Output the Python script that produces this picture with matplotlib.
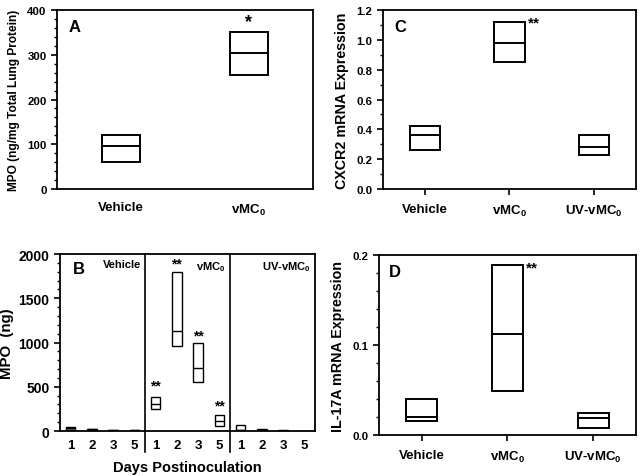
import matplotlib
matplotlib.use("Agg")
import matplotlib.pyplot as plt
from matplotlib.ticker import MultipleLocator
import numpy as np

plt.rcParams['font.family'] = ['Liberation Sans', 'DejaVu Sans']
plt.rcParams['font.weight'] = 'bold'
plt.rcParams['mathtext.fontset'] = 'custom'
plt.rcParams['mathtext.rm'] = 'Liberation Sans:bold'
plt.rcParams['mathtext.bf'] = 'Liberation Sans:bold'
plt.rcParams['mathtext.it'] = 'Liberation Sans:bold'

VMC = r'vMC$_\mathregular{0}$'
UVVMC = r'UV-vMC$_\mathregular{0}$'

# Panel A
a_groups = ['Vehicle', VMC]
a_low = [60, 256]
a_med = [97, 305]
a_high = [121, 350]

# Panel B
b_days = ['1', '2', '3', '5']
b_groups = ['Vehicle', VMC, UVVMC]
b_low = [10, 8, 5, 4, 252, 959, 553, 56, 8, 5, 3, 2]
b_med = [30, 18, 8, 6, 308, 1128, 711, 109, 15, 10, 5, 3]
b_high = [50, 28, 14, 11, 383, 1793, 992, 177, 65, 20, 10, 5]
b_face = ['#888888'] * 4 + ['white'] * 8
b_star = [None, None, None, None, 515, 1890, 1080, 290, None, None, None, None]

# Panel C
c_groups = ['Vehicle', VMC, UVVMC]
c_low = [0.26, 0.855, 0.225]
c_med = [0.36, 0.98, 0.285]
c_high = [0.425, 1.12, 0.365]

# Panel D
d_groups = ['Vehicle', VMC, UVVMC]
d_low = [0.016, 0.049, 0.008]
d_med = [0.020, 0.112, 0.019]
d_high = [0.040, 0.189, 0.024]

fig = plt.figure(figsize=(6.43, 4.77), dpi=100)

def style(ax, ys=8.2, xs=9.5):
    for s in ['top', 'right', 'left', 'bottom']:
        ax.spines[s].set_linewidth(1.3)
    ax.tick_params(direction='out', width=1.2, length=4)
    ax.tick_params(axis='y', labelsize=ys)
    ax.tick_params(axis='x', labelsize=xs)
    ax.tick_params(which='minor', direction='out', width=1.0, length=2.5)
    ax.tick_params(axis='x', which='minor', bottom=False)
    for lab in ax.get_yticklabels() + ax.get_xticklabels():
        lab.set_fontweight('bold')

def boxes(ax, x, low, med, high, width, lw, face='white'):
    low = np.array(low); med = np.array(med); high = np.array(high)
    ax.bar(x, high - low, width=width, bottom=low, color=face, edgecolor='black', linewidth=lw, zorder=3)
    ax.hlines(med, np.array(x) - width / 2, np.array(x) + width / 2, colors='black', linewidth=lw, zorder=4)

# ---- A
axA = fig.add_axes([0.0886, 0.6017, 0.398, 0.375])
xa = np.arange(len(a_groups))
boxes(axA, xa, a_low, a_med, a_high, 0.3, 1.4)
axA.set_xlim(-0.5, 1.5)
axA.set_ylim(0, 400)
axA.yaxis.set_major_locator(MultipleLocator(100))
axA.yaxis.set_minor_locator(MultipleLocator(20))
axA.set_xticks(xa)
axA.set_xticklabels(a_groups)
style(axA)
axA.tick_params(axis='x', length=0, pad=9)
axA.set_ylabel('MPO (ng/mg Total Lung Protein)', fontsize=8.6, fontweight='bold', labelpad=5)
axA.text(0.045, 0.95, 'A', transform=axA.transAxes, fontsize=12, fontweight='bold', va='top')
axA.text(1, 375, '*', ha='center', va='center', fontsize=13, fontweight='bold')

# ---- C
axC = fig.add_axes([0.5956, 0.6017, 0.3935, 0.375])
xc = np.arange(len(c_groups))
boxes(axC, xc, c_low, c_med, c_high, 0.36, 1.4)
axC.set_xlim(-0.5, 2.5)
axC.set_ylim(0, 1.2)
axC.yaxis.set_major_locator(MultipleLocator(0.2))
axC.yaxis.set_minor_locator(MultipleLocator(0.1))
axC.yaxis.set_major_formatter(matplotlib.ticker.FormatStrFormatter('%.1f'))
axC.set_xticks(xc)
axC.set_xticklabels(c_groups)
style(axC)
axC.tick_params(axis='x', pad=6)
axC.set_ylabel('CXCR2 mRNA Expression', fontsize=10.3, fontweight='bold', labelpad=5)
axC.text(0.045, 0.95, 'C', transform=axC.transAxes, fontsize=12, fontweight='bold', va='top')
axC.text(1.22, 1.12, '**', ha='left', va='center', fontsize=11, fontweight='bold')

# ---- B
axB = fig.add_axes([0.0933, 0.0943, 0.3966, 0.371])
xb = np.arange(len(b_low))
boxes(axB, xb, b_low, b_med, b_high, 0.45, 1.0, face=b_face)
for i, s in enumerate(b_star):
    if s is not None:
        axB.text(xb[i], s, '**', ha='center', va='center', fontsize=10, fontweight='bold')
axB.set_xlim(-0.5, 11.5)
axB.set_ylim(0, 2000)
axB.yaxis.set_major_locator(MultipleLocator(500))
axB.yaxis.set_minor_locator(MultipleLocator(100))
axB.set_xticks(xb)
axB.set_xticklabels(b_days * 3)
style(axB, ys=10, xs=9.5)
axB.tick_params(axis='x', length=0, pad=6)
for xs in [3.5, 7.5]:
    axB.axvline(xs, ymin=-0.12, ymax=1, color='black', linewidth=1.2, clip_on=False)
axB.set_xlabel('Days Postinoculation', fontsize=10.5, fontweight='bold', labelpad=6)
axB.set_ylabel('MPO  (ng)', fontsize=10.8, fontweight='bold', labelpad=3)
axB.text(0.05, 0.96, 'B', transform=axB.transAxes, fontsize=12, fontweight='bold', va='top')
for gi, g in enumerate(b_groups):
    axB.text(gi * 4 + 3.3, 1940, g, ha='right', va='top', fontsize=8, fontweight='bold')

# ---- D
axD = fig.add_axes([0.5894, 0.086, 0.3997, 0.377])
xd = np.arange(len(d_groups))
boxes(axD, xd, d_low, d_med, d_high, 0.36, 1.4)
axD.set_xlim(-0.5, 2.5)
axD.set_ylim(0, 0.2)
axD.yaxis.set_major_locator(MultipleLocator(0.1))
axD.yaxis.set_minor_locator(MultipleLocator(0.02))
axD.yaxis.set_major_formatter(matplotlib.ticker.FormatStrFormatter('%.1f'))
axD.set_xticks(xd)
axD.set_xticklabels(d_groups)
style(axD)
axD.tick_params(axis='x', pad=6)
axD.set_ylabel('IL-17A mRNA Expression', fontsize=10.3, fontweight='bold', labelpad=5)
axD.text(0.04, 0.95, 'D', transform=axD.transAxes, fontsize=12, fontweight='bold', va='top')
axD.text(1.22, 0.186, '**', ha='left', va='center', fontsize=11, fontweight='bold')

fig.savefig('out.png', dpi=100)
